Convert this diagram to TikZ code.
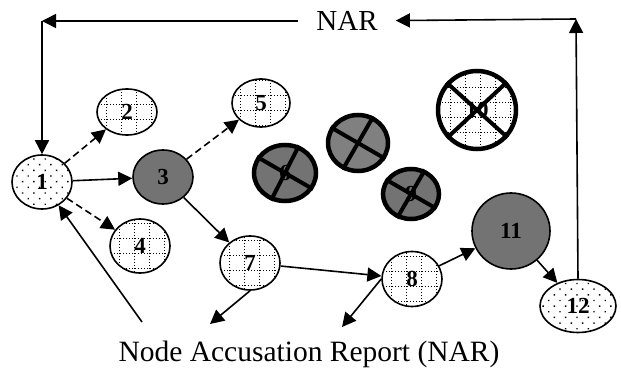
\documentclass[tikz,border=0pt]{standalone}
\usepackage{fontspec}
\setmainfont{Liberation Serif}
\usepackage{tikz}
\usetikzlibrary{arrows.meta,positioning,shapes.geometric,patterns.meta}
\definecolor{darkfill}{RGB}{115,115,115}
\definecolor{deadfill}{RGB}{128,128,128}

\begin{document}
\begin{tikzpicture}[x=1pt, y=-1pt, >={Triangle[length=14pt,width=14pt]},
  nd/.style={ellipse, draw, line width=1.6pt, inner sep=0pt,
    font=\fontsize{23}{23}\selectfont\bfseries},
  gridline/.style={line width=1.4pt, dash pattern=on 1.4pt off 1.6pt},
  gridnd/.style={nd, path picture={\draw[gridline]
    ([shift={(-50pt,-50pt)}]path picture bounding box.center) grid[step=15pt]
    ([shift={(50pt,50pt)}]path picture bounding box.center);}},
  dotnd/.style={nd, pattern={Dots[radius=1pt,distance=8pt,angle=45]}},
  darknd/.style={nd, fill=darkfill},
  deadnd/.style={line width=4.5pt},
  xline/.style={line width=4pt},
  arr/.style={->, line width=1.6pt},
  dasharr/.style={arr, dash pattern=on 7pt off 4pt}]
\useasboundingbox (0,0) rectangle (621,374);

\node[dotnd, minimum width=60pt, minimum height=54pt] (n1) at (42,182) {1};
\node[gridnd, minimum width=60pt, minimum height=46pt] (n2) at (127,112) {2};
\node[darknd, minimum width=60pt, minimum height=54pt] (n3) at (163,177) {3};
\node[gridnd, minimum width=60pt, minimum height=54pt] (n4) at (140,246) {4};
\node[gridnd, minimum width=58pt, minimum height=48pt] (n5) at (261,103) {5};
\node[darknd, deadnd, minimum width=62pt, minimum height=56pt] (n6) at (285,173) {6};
\node[gridnd, minimum width=60pt, minimum height=54pt] (n7) at (250,263) {7};
\node[gridnd, minimum width=60pt, minimum height=55pt] (n8) at (412,279) {8};
\node[darknd, deadnd, minimum width=56pt, minimum height=50pt] (n9) at (411,194) {9};
\node[gridnd, deadnd, minimum width=78pt, minimum height=78pt] (n10) at (477,110) {10};
\node[darknd, minimum width=78pt, minimum height=76pt] (n11) at (511,231) {11};
\node[dotnd, minimum width=76pt, minimum height=53pt] (n12) at (578,306) {12};
\node[nd, deadnd, fill=deadfill, minimum width=60pt, minimum height=56pt] (n13) at (358,143) {};

\draw[xline] (n6.150) -- (n6.-30);
\draw[xline] (n6.63) -- (n6.243);
\draw[xline] (n13.150) -- (n13.-30);
\draw[xline] (n13.60) -- (n13.240);
\draw[xline] (n9.150) -- (n9.-30);
\draw[xline] (n9.60) -- (n9.240);
\draw[xline] (n10.138) -- (n10.-42);
\draw[xline] (n10.43) -- (n10.223);

\node[font=\fontsize{29}{29}\selectfont, inner xsep=18pt, inner ysep=2pt] (nar) at (347,21) {NAR};
\node[font=\fontsize{29.5}{29.5}\selectfont] (cap) at (309,354) {Node Accusation Report (NAR)};
\coordinate (tl) at (42,21);
\coordinate (tr) at (576,19);
\coordinate (b1) at (142,322);
\coordinate (b7) at (210,324);
\coordinate (b8) at (342,327);

\draw[dasharr] (n1) -- (n2);
\draw[arr] (n1) -- (n3);
\draw[dasharr] (n1) -- (n4);
\draw[dasharr] (n3) -- (n5);
\draw[arr] (n3) -- (n7);
\draw[arr] (n7) -- (n8);
\draw[arr] (n8) -- (n11);
\draw[arr] (n11) -- (n12);
\draw[arr] (n7.south) -- (b7);
\draw[arr] (n8.west) -- (b8);
\draw[arr] (b1) -- (n1);
\draw[arr] (n12.north) -- (tr);
\draw[arr] (tr) -- (nar);
\draw[arr] (nar) -- (tl);
\draw[arr] (tl) -- (n1.north);
\end{tikzpicture}
\end{document}
